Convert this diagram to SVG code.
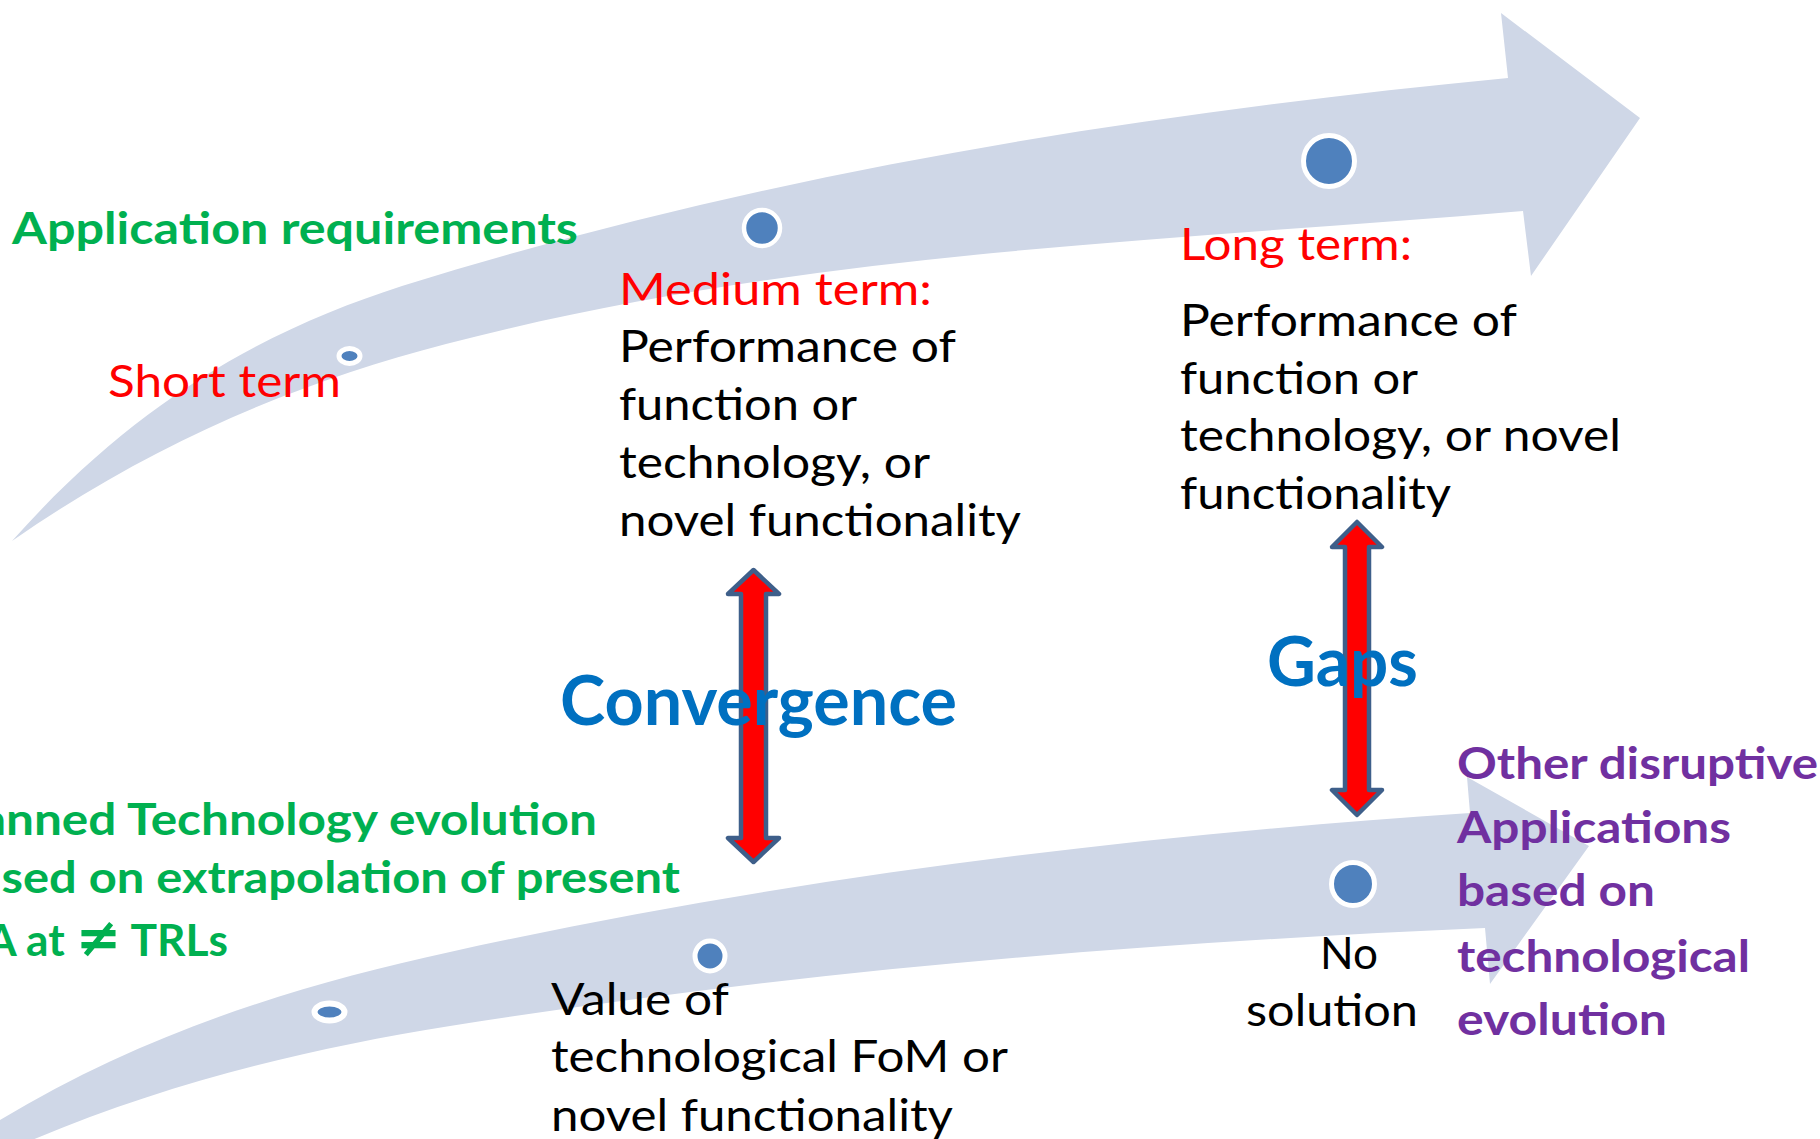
<svg xmlns="http://www.w3.org/2000/svg" width="1820" height="1139" viewBox="0 0 1820 1139">
<style>
  .band { fill: #CFD7E7; }
  .dot { fill: #4F81BD; stroke: #FFFFFF; }
  .dbl { fill: #FF0000; stroke: #3E5F8A; stroke-width: 4.5; stroke-linejoin: round; }
  text { font-family: Lato, "Open Sans", "Liberation Sans", sans-serif; font-size: 44px; }
  .green { fill: #00B050; font-weight: bold; }
  .red { fill: #FF0000; }
  .blk { fill: #000000; }
  .blue { fill: #0070C0; font-weight: bold; font-size: 68px; }
  .purple { fill: #7030A0; font-weight: bold; }
  .neq { font-family: "DejaVu Sans", sans-serif; font-size: 54px; font-weight: bold; }
</style>
<rect x="0" y="0" width="1820" height="1139" fill="#FFFFFF"/>

<g id="timeline-requirements">
  <path class="band" d="M 12,541 C 142,395 272,328 402,286 C 772,171 1138,114 1508,78 L 1501,13 L 1640,118 L 1531,276 L 1523,211 C 1163,241.6 806,250.4 446,344 C 301,381.7 157,440 12,541 Z"/>
  <ellipse class="dot" cx="349.5" cy="356" rx="10.5" ry="7.5" stroke-width="5"/>
  <circle class="dot" cx="762" cy="228" r="18" stroke-width="4.5"/>
  <circle class="dot" cx="1329" cy="161" r="25.5" stroke-width="5"/>
</g>

<g id="timeline-technology">
  <path class="band" d="M -80,1215 L 0,1120 C 150,1030 300,985 450,952 C 790,877 1130,836 1470,813 L 1467,777 L 1589,846 L 1490,984 L 1485,928 C 1140,943 795,970.8 450,1026 C 300,1050 150,1086.5 0,1154 Z"/>
  <ellipse class="dot" cx="329.5" cy="1012" rx="15" ry="8.5" stroke-width="6"/>
  <circle class="dot" cx="710" cy="956" r="15" stroke-width="5"/>
  <circle class="dot" cx="1353" cy="884" r="21.5" stroke-width="5"/>
</g>

<g id="connectors">
  <path id="convergence-arrow" class="dbl" d="M 753.5,570 L 779,594 L 766,594 L 766,838 L 779,838 L 753.5,862 L 728,838 L 741,838 L 741,594 L 728,594 Z"/>
  <path id="gaps-arrow" class="dbl" d="M 1357,522 L 1382,547 L 1369,547 L 1369,790 L 1382,790 L 1357,815 L 1332,790 L 1345,790 L 1345,547 L 1332,547 Z"/>
</g>

<g id="application-requirements">
  <text class="green" x="12" y="243.5" textLength="566" lengthAdjust="spacingAndGlyphs">Application requirements</text>
</g>

<g id="short-term">
  <text class="red" x="108" y="397.3" textLength="233" lengthAdjust="spacingAndGlyphs">Short term</text>
</g>

<g id="medium-term">
  <text class="red" x="619" y="305" textLength="313" lengthAdjust="spacingAndGlyphs">Medium term:</text>
  <text class="blk" x="619" y="362.3" textLength="337" lengthAdjust="spacingAndGlyphs">Performance of</text>
  <text class="blk" x="619" y="420.4" textLength="238" lengthAdjust="spacingAndGlyphs">function or</text>
  <text class="blk" x="619" y="478.4" textLength="311" lengthAdjust="spacingAndGlyphs">technology, or</text>
  <text class="blk" x="619" y="535.5" textLength="402" lengthAdjust="spacingAndGlyphs">novel functionality</text>
</g>

<g id="long-term">
  <text class="red" x="1180" y="260" textLength="232" lengthAdjust="spacingAndGlyphs">Long term:</text>
  <text class="blk" x="1180" y="335.5" textLength="337" lengthAdjust="spacingAndGlyphs">Performance of</text>
  <text class="blk" x="1180" y="393.6" textLength="238" lengthAdjust="spacingAndGlyphs">function or</text>
  <text class="blk" x="1180" y="450.7" textLength="441" lengthAdjust="spacingAndGlyphs">technology, or novel</text>
  <text class="blk" x="1180" y="508.7" textLength="271" lengthAdjust="spacingAndGlyphs">functionality</text>
</g>

<g id="convergence">
  <text class="blue" x="560" y="724.5" textLength="397" lengthAdjust="spacingAndGlyphs">Convergence</text>
</g>

<g id="gaps">
  <text class="blue" x="1267" y="686.3" textLength="151" lengthAdjust="spacingAndGlyphs">Gaps</text>
</g>

<g id="planned-technology-evolution">
  <text class="green" x="-62" y="834.5" textLength="659" lengthAdjust="spacingAndGlyphs">Planned Technology evolution</text>
  <text class="green" x="-51" y="893" textLength="731" lengthAdjust="spacingAndGlyphs">based on extrapolation of present</text>
  <text class="green" x="-63" y="955.5" textLength="291" lengthAdjust="spacingAndGlyphs">SoA at <tspan class="neq">≠</tspan> TRLs</text>
</g>

<g id="value-of-fom">
  <text class="blk" x="551" y="1015" textLength="178" lengthAdjust="spacingAndGlyphs">Value of</text>
  <text class="blk" x="551" y="1072.3" textLength="457" lengthAdjust="spacingAndGlyphs">technological FoM or</text>
  <text class="blk" x="551" y="1130.7" textLength="402" lengthAdjust="spacingAndGlyphs">novel functionality</text>
</g>

<g id="no-solution">
  <text class="blk" x="1320" y="969" textLength="58" lengthAdjust="spacingAndGlyphs">No</text>
  <text class="blk" x="1246" y="1026.3" textLength="172" lengthAdjust="spacingAndGlyphs">solution</text>
</g>

<g id="other-disruptive-applications">
  <text class="purple" x="1457" y="779" textLength="361" lengthAdjust="spacingAndGlyphs">Other disruptive</text>
  <text class="purple" x="1457" y="842.6" textLength="274" lengthAdjust="spacingAndGlyphs">Applications</text>
  <text class="purple" x="1457" y="906" textLength="198" lengthAdjust="spacingAndGlyphs">based on</text>
  <text class="purple" x="1457" y="972" textLength="293" lengthAdjust="spacingAndGlyphs">technological</text>
  <text class="purple" x="1457" y="1035" textLength="210" lengthAdjust="spacingAndGlyphs">evolution</text>
</g>
</svg>
